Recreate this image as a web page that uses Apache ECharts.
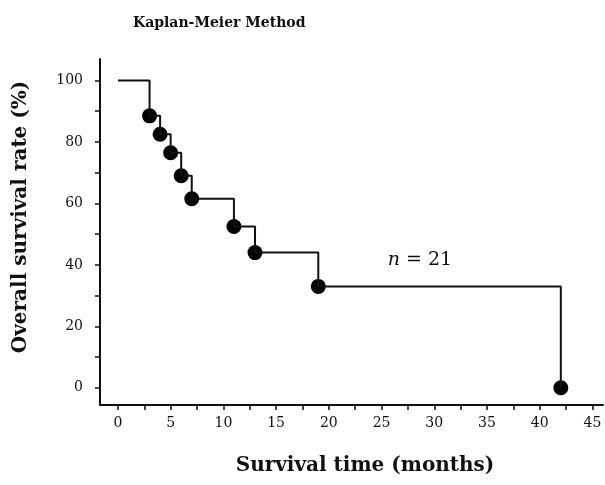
<!DOCTYPE html>
<html lang="en">
<head>
	<meta charset="UTF-8">
	<title>Kaplan-Meier Method</title>
	<script src="https://cdn.jsdelivr.net/npm/echarts@6/dist/echarts.min.js"></script>
	<style>
		html, body { margin: 0; padding: 0; background: #fff; }
		#chart { width: 605px; height: 485px; }
	</style>
</head>
<body>
	<div id="chart"></div>
	<script>
	// survival curve
	var times = [0, 3, 4, 5, 6, 7, 11, 13, 19, 42];
	var survival = [100, 88.5, 82.5, 76.5, 69, 61.5, 52.5, 44, 33, 0];
	var xLabels = [0, 5, 10, 15, 20, 25, 30, 35, 40, 45];
	var xTicks = [0, 2.5, 5, 7.5, 10, 12.5, 15, 17.5, 20, 22.5, 25, 27.5, 30, 32.5, 35, 37.5, 40, 42.5, 45];
	var yLabels = [0, 20, 40, 60, 80, 100];
	var yTicks = [0, 10, 20, 30, 40, 50, 60, 70, 80, 90, 100];

	var font = '"DejaVu Serif", "Liberation Serif", serif';

	var stepData = [];
	for (var i = 0; i < times.length; i++) {
		stepData.push([times[i], survival[i]]);
	}
	// dots at every event (not the start point)
	var dotData = stepData.slice(1);

	var chart = echarts.init(document.getElementById('chart'));
	var option = {
		animation: false,
		backgroundColor: '#fff',
		title: {
			text: 'Kaplan-Meier Method',
			left: 128,
			top: 11,
			textStyle: { fontFamily: font, fontWeight: 'bold', fontSize: 14, color: '#111' }
		},
		grid: { left: 100, right: 2, top: 59, bottom: 80 },
		xAxis: {
			type: 'value',
			min: -1.7,
			max: 46,
			axisLine: { show: true, onZero: false, lineStyle: { color: '#111', width: 2 } },
			axisTick: { show: true, inside: false, length: 5, customValues: xTicks, lineStyle: { color: '#111', width: 1.5 } },
			axisLabel: { customValues: xLabels, margin: 11, fontFamily: font, fontSize: 14, color: '#111' },
			splitLine: { show: false }
		},
		yAxis: {
			type: 'value',
			min: -5.6,
			max: 107,
			axisLine: { show: true, onZero: false, lineStyle: { color: '#111', width: 2 } },
			axisTick: { show: true, length: 5, customValues: yTicks, lineStyle: { color: '#111', width: 1.5 } },
			axisLabel: { customValues: yLabels, margin: 17, fontFamily: font, fontSize: 14, color: '#111' },
			splitLine: { show: false }
		},
		graphic: [{
			type: 'text',
			x: 365,
			y: 466,
			style: {
				text: 'Survival time (months)',
				fontFamily: font, fontWeight: 'bold', fontSize: 20, fill: '#111',
				align: 'center', verticalAlign: 'middle'
			}
		}, {
			type: 'text',
			x: 21,
			y: 217,
			rotation: Math.PI / 2,
			style: {
				text: 'Overall survival rate (%)',
				fontFamily: font, fontWeight: 'bold', fontSize: 20, fill: '#111',
				align: 'center', verticalAlign: 'middle'
			}
		}, {
			type: 'text',
			x: 420,
			y: 260,
			style: {
				text: '{i|n} = 21',
				rich: { i: { fontStyle: 'italic', fontFamily: font, fontSize: 19, fill: '#111' } },
				fontFamily: font, fontSize: 19, fill: '#111',
				align: 'center', verticalAlign: 'middle'
			}
		}],
		series: [{
			type: 'line',
			step: 'end',
			data: stepData,
			symbol: 'none',
			lineStyle: { color: '#111', width: 2 }
		}, {
			type: 'scatter',
			data: dotData,
			symbol: 'circle',
			symbolSize: 15,
			itemStyle: { color: '#000', opacity: 1 }
		}]
	};
	chart.setOption(option);
	</script>
</body>
</html>
